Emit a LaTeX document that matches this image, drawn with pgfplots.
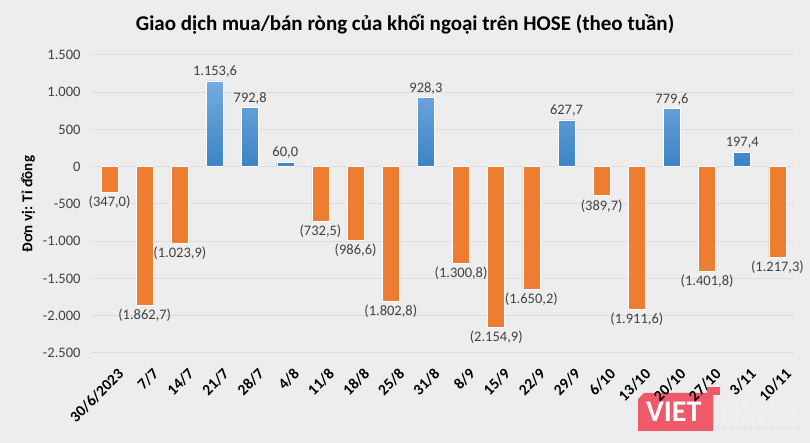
\documentclass[border=0pt]{standalone}
\usepackage{pgfplots}
\pgfplotsset{compat=1.18}
\usepackage{pgfplotstable}
\usepackage{fontspec}
\setmainfont{Carlito}
\newfontfamily\serifwm{Liberation Serif}
\definecolor{bg}{HTML}{EDEDED}
\definecolor{orng}{HTML}{ED7D31}
\definecolor{bluetop}{HTML}{74ABE0}
\definecolor{bluebot}{HTML}{3C83C5}
\definecolor{gridc}{HTML}{D9DEE6}
\definecolor{txt}{HTML}{404040}
\definecolor{vtred}{HTML}{EE5A6A}

% tuan: chi so tuan (0 = 30/6/2023), v: gia tri rong (ti dong)
\pgfplotstableread{
x v
3 1153.6
4 792.8
5 60.0
9 928.3
13 627.7
16 779.6
18 197.4
}\muarong
\pgfplotstableread{
x v
0 -347.0
1 -1862.7
2 -1023.9
6 -732.5
7 -986.6
8 -1802.8
10 -1300.8
11 -2154.9
12 -1650.2
14 -389.7
15 -1911.6
17 -1401.8
19 -1217.3
}\banrong

\begin{document}
\begin{tikzpicture}
\fill[bg] (-92pt,-90pt) rectangle (718pt,353pt);
% logo VietTimes (nam duoi cac nhan)
\fill[vtred] (615pt,-34pt) rectangle (628pt,-42pt);
\fill[vtred] (552pt,-40pt) -- (621pt,-40pt) -- (621pt,-78pt) -- (546pt,-78pt) -- (546pt,-46pt) -- cycle;
\node[anchor=west, text=white, font=\fontsize{30}{30}\selectfont\bfseries, inner sep=0pt] at (554pt,-59pt) {VIET};
\node[anchor=west, text=white!88!gray, font=\fontsize{28}{28}\selectfont\serifwm, inner sep=0pt] at (623pt,-59pt) {TIMES};
\node[anchor=west, text=white!75!gray, font=\fontsize{7}{7}\selectfont\serifwm\itshape, inner sep=0pt] at (623pt,-76pt) {Truyền thông trên nền tảng số};
\begin{axis}[
  at={(0,0)}, anchor=south west,
  scale only axis,
  width=703pt, height=298pt,
  xmin=-0.5, xmax=19.5,
  ymin=-2500, ymax=1500,
  ytick={-2500,-2000,...,1500},
  yticklabels={-2.500,-2.000,-1.500,-1.000,-500,0,500,1.000,1.500},
  xtick={0,...,19},
  xticklabels={30/6/2023,7/7,14/7,21/7,28/7,4/8,11/8,18/8,25/8,31/8,8/9,15/9,22/9,29/9,6/10,13/10,20/10,27/10,3/11,10/11},
  xticklabel style={rotate=45, anchor=north east, font=\fontsize{15.5}{15.5}\selectfont\bfseries, text=black, inner sep=1pt, yshift=-14pt, xshift=-4pt},
  yticklabel style={font=\fontsize{14.5}{14.5}\selectfont, text=txt, xshift=-8pt},
  axis line style={draw=none},
  tick style={draw=none},
  ymajorgrids,
  grid style={gridc, line width=1pt},
  ylabel={Đơn vị: Tỉ đồng},
  every axis y label/.style={at={(-64pt,0.5)}, rotate=90, anchor=center,
    font=\fontsize{15}{15}\selectfont\bfseries, text=black},
  clip=false,
  /pgf/number format/assume math mode=true,
  /pgf/number format/.cd, use comma, fixed, fixed zerofill, precision=1,
]
\addplot[ybar, bar width=17pt, bar shift=0pt, draw=white, line width=0.6pt,
  top color=bluetop, bottom color=bluebot,
  nodes near coords, nodes near coords align={above},
  every node near coord/.append style={font=\fontsize{14.5}{14.5}\selectfont, text=txt}]
  table[x=x, y=v]{\muarong};
\addplot[ybar, bar width=17pt, bar shift=0pt, draw=white, line width=0.6pt, fill=orng,
  point meta={-\thisrow{v}},
  nodes near coords={(\pgfmathprintnumber{\pgfplotspointmeta})},
  nodes near coords align={below},
  every node near coord/.append style={font=\fontsize{14.5}{14.5}\selectfont, text=txt}]
  table[x=x, y=v]{\banrong};
\end{axis}
\node[font=\fontsize{21}{21}\selectfont\bfseries, text=black] at (313pt,329pt)
  {Giao dịch mua/bán ròng của khối ngoại trên HOSE (theo tuần)};
\end{tikzpicture}
\end{document}
